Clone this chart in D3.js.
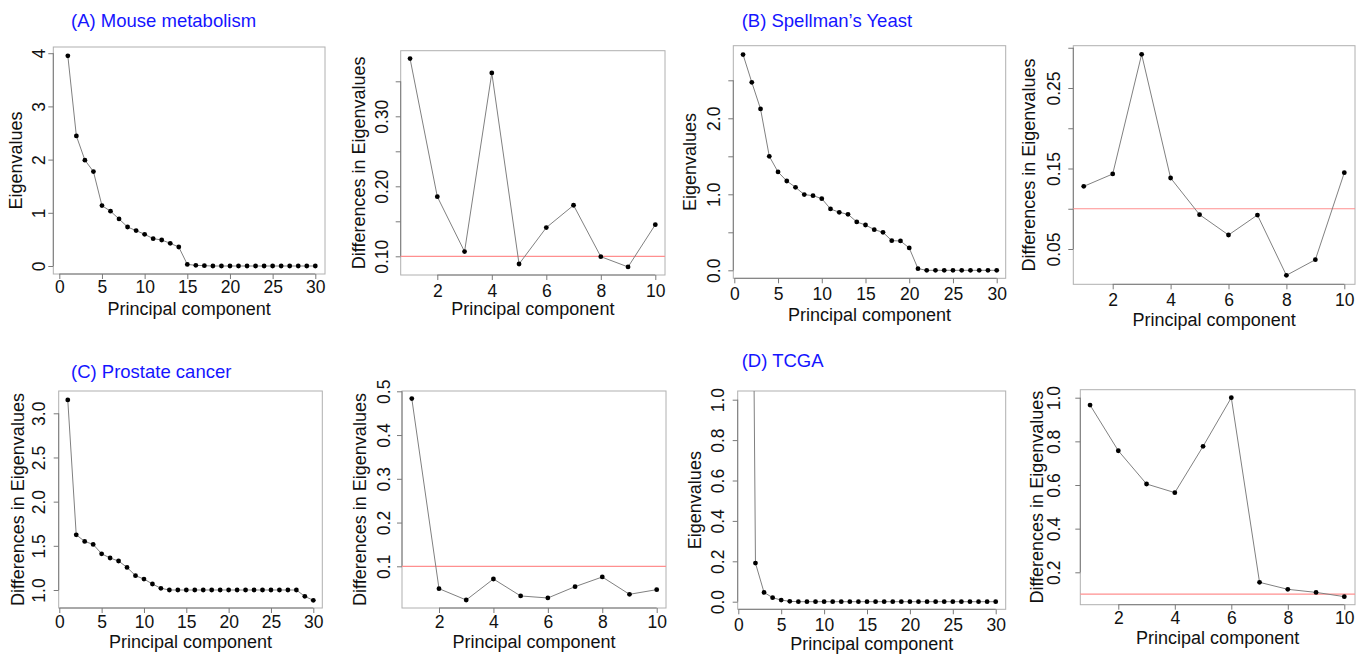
<!DOCTYPE html>
<html>
<head>
<meta charset="utf-8">
<script src="https://cdn.jsdelivr.net/npm/d3@7"></script>
<style>
  body { margin: 0; background: #fff; }
  svg { display: block; }
  text { font-family: "Liberation Sans", Arial, sans-serif; }
</style>
</head>
<body>
<svg id="chart" width="1357" height="654"></svg>
<script>
// eigenvalues of the first 30 components, differences for the first 10
const mouseEigen = [3.95, 2.445, 1.99, 1.775, 1.135, 1.03, 0.884, 0.733, 0.665, 0.596,
  0.514, 0.489, 0.426, 0.357, 0.03, 0.013, 0.006, 0, 0, 0, 0, 0, 0, 0, 0, 0, 0, 0, 0, 0];
const mouseDiff = [0.3824, 0.1852, 0.1067, 0.3619, 0.089, 0.141, 0.1729, 0.0995, 0.0848, 0.1452];

const yeastEigen = [2.838, 2.474, 2.123, 1.5, 1.294, 1.175, 1.092, 0.996, 0.982, 0.943,
  0.807, 0.763, 0.737, 0.636, 0.596, 0.535, 0.5, 0.39, 0.386, 0.294, 0.022, 0, 0, 0, 0, 0, 0, 0, 0, 0];
const yeastDiff = [0.1278, 0.1432, 0.2918, 0.1382, 0.0927, 0.0674, 0.0922, 0.0173, 0.0367, 0.1448];

const prostateEigen = [3.151, 1.625, 1.55, 1.516, 1.41, 1.362, 1.328, 1.256, 1.162, 1.124,
  1.068, 1.019, 1, 1, 1, 1, 1, 1, 1, 1, 1, 1, 1, 1, 1, 1, 1, 1, 0.928, 0.883];
const prostateDiff = [0.4834, 0.0489, 0.023, 0.071, 0.0322, 0.0276, 0.0535, 0.0756, 0.036, 0.0466];

const tcgaEigen = [5.6, 0.191, 0.046, 0.02, 0.008, 0.002, 0, 0, 0, 0, 0, 0, 0, 0, 0,
  0, 0, 0, 0, 0, 0, 0, 0, 0, 0, 0, 0, 0, 0, 0];
const tcgaDiff = [0.9664, 0.757, 0.6046, 0.565, 0.777, 1.0, 0.154, 0.122, 0.108, 0.0885];

const cutoff = 0.1;

// tick values and labels
const xTicks30 = [0, 5, 10, 15, 20, 25, 30];
const xTicks10 = [2, 4, 6, 8, 10];
const mouseEigenTicks = [0, 1, 2, 3, 4];
const mouseEigenLabels = ['0', '1', '2', '3', '4'];
const mouseDiffTicks = [0.10, 0.15, 0.20, 0.25, 0.30, 0.35];
const mouseDiffLabels = ['0.10', '', '0.20', '', '0.30', ''];
const yeastEigenTicks = [0, 0.5, 1, 1.5, 2, 2.5];
const yeastEigenLabels = ['0.0', '', '1.0', '', '2.0', ''];
const yeastDiffTicks = [0.05, 0.10, 0.15, 0.20, 0.25, 0.30];
const yeastDiffLabels = ['0.05', '', '0.15', '', '0.25', ''];
const prostateEigenTicks = [1, 1.5, 2, 2.5, 3];
const prostateEigenLabels = ['1.0', '1.5', '2.0', '2.5', '3.0'];
const prostateDiffTicks = [0.1, 0.2, 0.3, 0.4, 0.5];
const prostateDiffLabels = ['0.1', '0.2', '0.3', '0.4', '0.5'];
const tcgaEigenTicks = [0, 0.2, 0.4, 0.6, 0.8, 1.0];
const tcgaEigenLabels = ['0.0', '0.2', '0.4', '0.6', '0.8', '1.0'];
const tcgaDiffTicks = [0.2, 0.4, 0.6, 0.8, 1.0];
const tcgaDiffLabels = ['0.2', '0.4', '0.6', '0.8', '1.0'];

const xTitle = 'Principal component';
const diffTitle = 'Differences in Eigenvalues';

// layout: box = [left, right, top, bottom], xcal / ycal = two [value, pixel] anchors
const panels = [
  { title: '(A) Mouse metabolism', tx: 71, ty: 27, values: mouseEigen, ylab: 'Eigenvalues',
    xt: xTicks30, yt: mouseEigenTicks, yl: mouseEigenLabels,
    box: [53.3, 325, 47, 274], xcal: [[0, 59.3], [30, 315.3]], ycal: [[0, 266], [4, 53.2]],
    tOff: 8, lOff: 31, xtOff: 19, xlOff: 41 },
  { values: mouseDiff, ylab: diffTitle, cut: true,
    xt: xTicks10, yt: mouseDiffTicks, yl: mouseDiffLabels,
    box: [400.7, 665, 50.7, 275], xcal: [[2, 437.3], [10, 655.3]], ycal: [[0.1, 256.3], [0.3, 116.3]],
    tOff: 13, lOff: 36, xtOff: 22, xlOff: 40 },
  { title: '(B) Spellman\u2019s Yeast', tx: 741.7, ty: 27, values: yeastEigen, ylab: 'Eigenvalues',
    xt: xTicks30, yt: yeastEigenTicks, yl: yeastEigenLabels,
    box: [733.3, 1005.7, 45.7, 278.3], xcal: [[0, 734.3], [30, 996.7]], ycal: [[0, 270.3], [2, 118.3]],
    tOff: 13, lOff: 37, xtOff: 22, xlOff: 43 },
  { values: yeastDiff, ylab: diffTitle, cut: true,
    xt: xTicks10, yt: yeastDiffTicks, yl: yeastDiffLabels,
    box: [1073.3, 1355, 45.7, 284.3], xcal: [[2, 1112.7], [10, 1344.3]], ycal: [[0.05, 249], [0.25, 88]],
    tOff: 13, lOff: 38, xtOff: 22, xlOff: 42 },
  { title: '(C) Prostate cancer', tx: 71, ty: 378, values: prostateEigen, ylab: diffTitle,
    xt: xTicks30, yt: prostateEigenTicks, yl: prostateEigenLabels,
    box: [58.7, 322.3, 391, 608], xcal: [[0, 59.3], [30, 313.3]], ycal: [[1, 590], [3, 413.3]],
    tOff: 13.7, lOff: 35, xtOff: 20, xlOff: 40 },
  { values: prostateDiff, ylab: diffTitle, cut: true,
    xt: xTicks10, yt: prostateDiffTicks, yl: prostateDiffLabels,
    box: [402, 666, 391, 608], xcal: [[2, 439], [10, 656.7]], ycal: [[0.1, 566.3], [0.5, 391.3]],
    tOff: 12, lOff: 36, xtOff: 20, xlOff: 40 },
  { title: '(D) TCGA', tx: 741.7, ty: 367, values: tcgaEigen, ylab: 'Eigenvalues',
    xt: xTicks30, yt: tcgaEigenTicks, yl: tcgaEigenLabels,
    box: [737.7, 1005.7, 391, 609.3], xcal: [[0, 738.3], [30, 995.7]], ycal: [[0, 601.7], [1, 399.7]],
    tOff: 14, lOff: 37, xtOff: 22, xlOff: 41 },
  { values: tcgaDiff, ylab: diffTitle, cut: true,
    xt: xTicks10, yt: tcgaDiffTicks, yl: tcgaDiffLabels,
    box: [1080.3, 1355, 389.7, 604.7], xcal: [[2, 1118.3], [10, 1344.3]], ycal: [[0.2, 572.3], [1, 397.7]],
    tOff: 20, lOff: 37, xtOff: 19.5, xlOff: 39 }
];

const svg = d3.select('#chart');

panels.forEach((p, k) => {
  const [l, r, t, b] = p.box;
  const x = d3.scaleLinear()
    .domain([p.xcal[0][0], p.xcal[1][0]])
    .range([p.xcal[0][1], p.xcal[1][1]]);
  const y = d3.scaleLinear()
    .domain([p.ycal[0][0], p.ycal[1][0]])
    .range([p.ycal[0][1], p.ycal[1][1]]);

  const g = svg.append('g');
  g.append('clipPath').attr('id', 'clip' + k)
    .append('rect')
    .attr('x', l).attr('y', t).attr('width', r - l).attr('height', b - t);

  // frame
  g.append('rect')
    .attr('x', l).attr('y', t).attr('width', r - l).attr('height', b - t)
    .attr('fill', 'none').attr('stroke', '#b0b0b0').attr('stroke-width', 1);

  // x axis
  const xa = g.append('g')
    .attr('transform', `translate(0,${b})`)
    .attr('color', '#7a7a7a')
    .call(d3.axisBottom(x).tickValues(p.xt).tickSize(5).tickSizeOuter(0).tickFormat(d3.format('d')));
  xa.select('.domain').remove();
  xa.append('line')
    .attr('x1', x(p.xt[0])).attr('x2', x(p.xt[p.xt.length - 1]))
    .attr('stroke', '#7a7a7a');
  xa.selectAll('text')
    .attr('y', p.xtOff).attr('dy', null)
    .attr('fill', '#111')
    .attr('font-size', 17.5)
    .attr('font-family', '"Liberation Sans", Arial, sans-serif');

  // y axis with R-style rotated labels
  const ya = g.append('g')
    .attr('transform', `translate(${l},0)`)
    .attr('color', '#7a7a7a')
    .call(d3.axisLeft(y).tickValues(p.yt).tickSize(5).tickSizeOuter(0)
      .tickFormat((d, i) => p.yl[i]));
  ya.select('.domain').remove();
  ya.append('line')
    .attr('y1', y(p.yt[0])).attr('y2', y(p.yt[p.yt.length - 1]))
    .attr('stroke', '#7a7a7a');
  ya.selectAll('text')
    .attr('x', 0).attr('dy', null)
    .attr('transform', `translate(${-p.tOff},0) rotate(-90)`)
    .attr('text-anchor', 'middle')
    .attr('fill', '#111')
    .attr('font-size', 17.5)
    .attr('font-family', '"Liberation Sans", Arial, sans-serif');

  // axis titles
  g.append('text')
    .attr('x', (l + r) / 2).attr('y', b + p.xlOff)
    .attr('text-anchor', 'middle')
    .attr('font-size', 18).attr('fill', '#111')
    .text(xTitle);
  g.append('text')
    .attr('transform', `translate(${l - p.lOff},${(t + b) / 2}) rotate(-90)`)
    .attr('text-anchor', 'middle')
    .attr('font-size', 18).attr('fill', '#111')
    .text(p.ylab);

  // cutoff line
  if (p.cut) {
    g.append('line')
      .attr('x1', l).attr('x2', r)
      .attr('y1', y(cutoff)).attr('y2', y(cutoff))
      .attr('stroke', '#ff8f8f').attr('stroke-width', 1.2);
  }

  const pts = p.values.map((v, i) => ({ pc: i + 1, v: v }));
  const plot = g.append('g').attr('clip-path', `url(#clip${k})`);
  plot.append('path')
    .datum(pts)
    .attr('fill', 'none')
    .attr('stroke', '#808080')
    .attr('stroke-width', 1)
    .attr('d', d3.line().x(d => x(d.pc)).y(d => y(d.v)));
  plot.selectAll('circle')
    .data(pts)
    .enter()
    .append('circle')
      .attr('cx', d => x(d.pc))
      .attr('cy', d => y(d.v))
      .attr('r', 2.4)
      .attr('fill', '#000');

  if (p.title) {
    svg.append('text')
      .attr('x', p.tx).attr('y', p.ty)
      .attr('font-size', 18.5)
      .attr('fill', '#1515ff')
      .text(p.title);
  }
});
</script>
</body>
</html>
